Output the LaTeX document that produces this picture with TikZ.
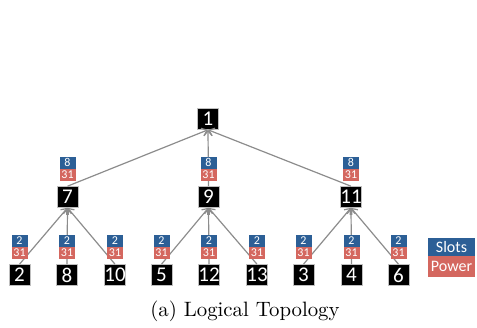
\documentclass[tikz,border=0pt]{standalone}
\usepackage{fontspec}
\newfontfamily\calfont{Carlito}
\usetikzlibrary{arrows.meta,positioning}
\definecolor{slotblue}{HTML}{2C5F96}
\definecolor{powred}{HTML}{D4675F}
\definecolor{edgegray}{HTML}{8C8C8C}
\tikzset{
  box/.style={fill=black,draw=gray!50,line width=0.3pt,minimum width=10.5pt,minimum height=10.5pt,inner sep=0pt,text=white,font=\calfont\fontsize{10.5}{10.5}\selectfont},
  sl/.style={fill=slotblue,minimum width=8pt,minimum height=5.8pt,inner sep=0pt,text=white,font=\calfont\fontsize{6}{6}\selectfont},
  pw/.style={fill=powred,minimum width=8pt,minimum height=5.8pt,inner sep=0pt,text=white,font=\calfont\fontsize{6}{6}\selectfont},
  edge/.style={draw=edgegray,line width=0.6pt,-{Straight Barb[length=2.5pt,width=4pt]}},
  lg/.style={inner sep=0pt,minimum width=23.5pt,text=white,font=\calfont\fontsize{8}{8}\selectfont}
}
\newcommand\mklabel[3]{%
  \node[pw,above=2.5pt of #1] (p#1) {#3};
  \node[sl,above=-0.1pt of p#1] (s#1) {#2};}
\begin{document}
\begin{tikzpicture}[x=0.5pt,y=-0.5pt]
\useasboundingbox (0,0) rectangle (477,327);
% nodes
\node[box] (n1) at (208,119) {1};
\node[box] (n7) at (67.5,197) {7};
\node[box] (n9) at (208.5,197) {9};
\node[box] (n11) at (351,197) {11};
\node[box] (n2) at (19.5,275) {2};
\node[box] (n8) at (67,275) {8};
\node[box] (n10) at (115,275) {10};
\node[box] (n5) at (161.5,275) {5};
\node[box] (n12) at (209,275) {12};
\node[box] (n13) at (257,275) {13};
\node[box] (n3) at (303.5,275) {3};
\node[box] (n4) at (351.5,275) {4};
\node[box] (n6) at (398.5,275) {6};
% edges
\draw[edge] (n7.north) -- (n1.south);
\draw[edge] (n9.north) -- (n1.south);
\draw[edge] (n11.north) -- (n1.south);
\draw[edge] (n2.north) -- (n7.south);
\draw[edge] (n8.north) -- (n7.south);
\draw[edge] (n10.north) -- (n7.south);
\draw[edge] (n5.north) -- (n9.south);
\draw[edge] (n12.north) -- (n9.south);
\draw[edge] (n13.north) -- (n9.south);
\draw[edge] (n3.north) -- (n11.south);
\draw[edge] (n4.north) -- (n11.south);
\draw[edge] (n6.north) -- (n11.south);
% labels
\mklabel{n7}{8}{31}
\mklabel{n9}{8}{31}
\mklabel{n11}{8}{31}
\mklabel{n2}{2}{31}
\mklabel{n8}{2}{31}
\mklabel{n10}{2}{31}
\mklabel{n5}{2}{31}
\mklabel{n12}{2}{31}
\mklabel{n13}{2}{31}
\mklabel{n3}{2}{31}
\mklabel{n4}{2}{31}
\mklabel{n6}{2}{31}
% legend
\node[lg,fill=slotblue,minimum height=9pt,anchor=south] (lslots) at (451.5,256.5) {Slots};
\node[lg,fill=powred,minimum height=10.5pt,anchor=north] (lpower) at (451.5,256) {Power};
% caption
\node[font=\fontsize{10.4}{12}\selectfont] (cap) at (245,311) {(a) Logical Topology};
\end{tikzpicture}
\end{document}
